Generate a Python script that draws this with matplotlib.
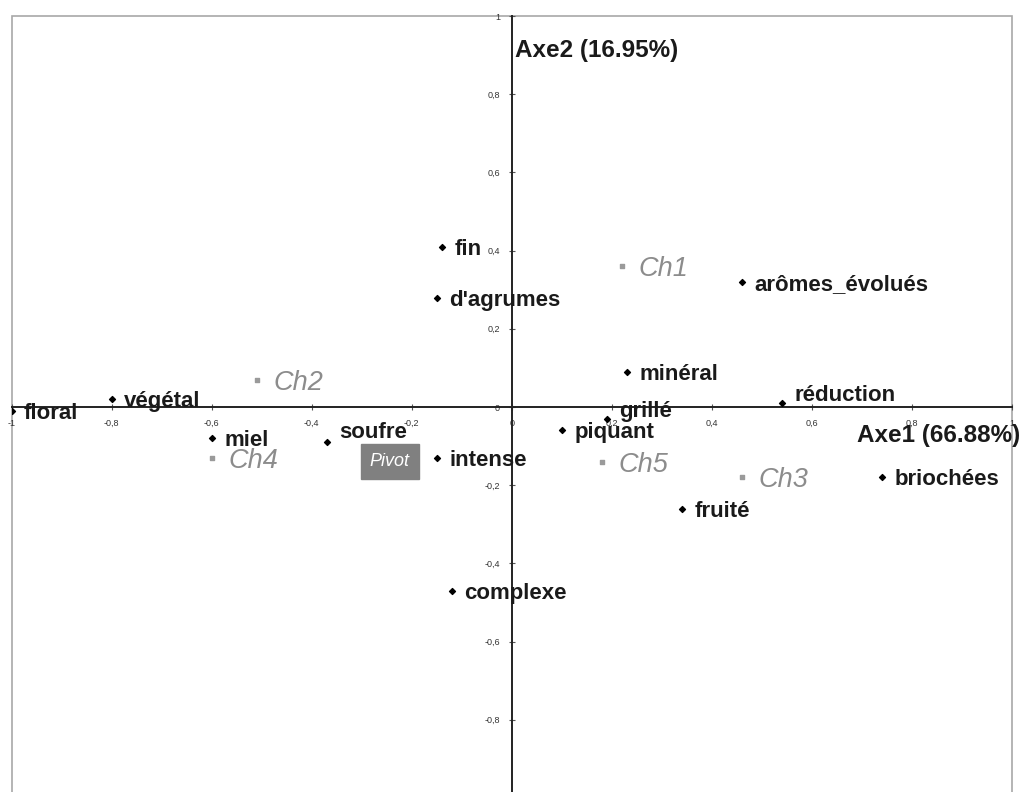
import matplotlib
matplotlib.use("Agg")
import matplotlib.pyplot as plt
from matplotlib.patches import Rectangle
from matplotlib.ticker import FuncFormatter, MultipleLocator
import numpy as np

# descriptors (variables) on the first factorial plane
var_names = ['floral', 'végétal', 'miel', 'soufre', 'intense', 'fin', "d'agrumes",
             'complexe', 'piquant', 'grillé', 'minéral', 'arômes_évolués',
             'réduction', 'fruité', 'briochées']
var_x = [-1.00, -0.80, -0.60, -0.37, -0.15, -0.14, -0.15, -0.12, 0.10, 0.19,
         0.23, 0.46, 0.54, 0.34, 0.74]
var_y = [-0.01, 0.02, -0.08, -0.09, -0.13, 0.41, 0.28, -0.47, -0.06, -0.03,
         0.09, 0.32, 0.01, -0.26, -0.18]

# wines (individuals)
wine_names = ['Ch1', 'Ch2', 'Ch3', 'Ch4', 'Ch5']
wine_x = [0.22, -0.51, 0.46, -0.60, 0.18]
wine_y = [0.36, 0.07, -0.18, -0.13, -0.14]

pivot_x, pivot_y = -0.244, -0.14

axe1_label = 'Axe1 (66.88%)'
axe2_label = 'Axe2 (16.95%)'

# a few labels sit a bit higher than their point
label_dy = {'grillé': 7, 'réduction': 7, 'soufre': 9}

plt.rcParams['font.family'] = ['Liberation Sans', 'DejaVu Sans']

fig = plt.figure(figsize=(10.29, 7.92), dpi=100)
ax = fig.add_axes([0.01118, -0.00758, 0.9723, 0.98737])
ax.set_xlim(-1, 1)
ax.set_ylim(-1, 1)

for s in ['top', 'right']:
    ax.spines[s].set_visible(False)
ax.spines['left'].set_position('zero')
ax.spines['bottom'].set_position('zero')
for s in ['left', 'bottom']:
    ax.spines[s].set_color('#222222')
    ax.spines[s].set_linewidth(1.4)

ax.add_patch(Rectangle((0, 0), 1, 1, transform=ax.transAxes, fill=False,
                       edgecolor='#a8a8a8', lw=1.2, clip_on=False, zorder=0))

fmt = FuncFormatter(lambda v, p: ('%g' % round(v, 1)).replace('.', ','))
ax.xaxis.set_major_locator(MultipleLocator(0.2))
ax.yaxis.set_major_locator(MultipleLocator(0.2))
ax.xaxis.set_major_formatter(fmt)
ax.yaxis.set_major_formatter(fmt)
ax.tick_params(direction='inout', length=5, width=0.8, color='#555555',
               labelsize=6.5, labelcolor='#333333', pad=6)

ax.scatter(var_x, var_y, marker='D', s=9, color='black', zorder=3)
for name, x, y in zip(var_names, var_x, var_y):
    ax.annotate(name, (x, y), xytext=(9, label_dy.get(name, 0)),
                textcoords='offset points', ha='left', va='center_baseline',
                fontsize=16, fontweight='bold', color='#1a1a1a', zorder=4)

ax.scatter(wine_x, wine_y, marker='s', s=7, color='#9a9a9a', zorder=3)
for name, x, y in zip(wine_names, wine_x, wine_y):
    ax.annotate(name, (x, y), xytext=(12, 0), textcoords='offset points',
                ha='left', va='center_baseline', fontsize=19.5, style='italic',
                color='#8c8c8c', zorder=4)

ax.text(pivot_x, pivot_y, 'Pivot', ha='center', va='center', fontsize=13,
        style='italic', color='white', zorder=5,
        bbox=dict(boxstyle='square,pad=0.5', facecolor='#808080',
                  edgecolor='#808080'))

ax.text(0.006, 0.913, axe2_label, ha='left', va='center', fontsize=17.5,
        fontweight='bold', color='#1a1a1a')
ax.text(0.69, -0.072, axe1_label, ha='left', va='center', fontsize=17.5,
        fontweight='bold', color='#1a1a1a', clip_on=False)

fig.savefig('out.png', dpi=100, facecolor='white')
